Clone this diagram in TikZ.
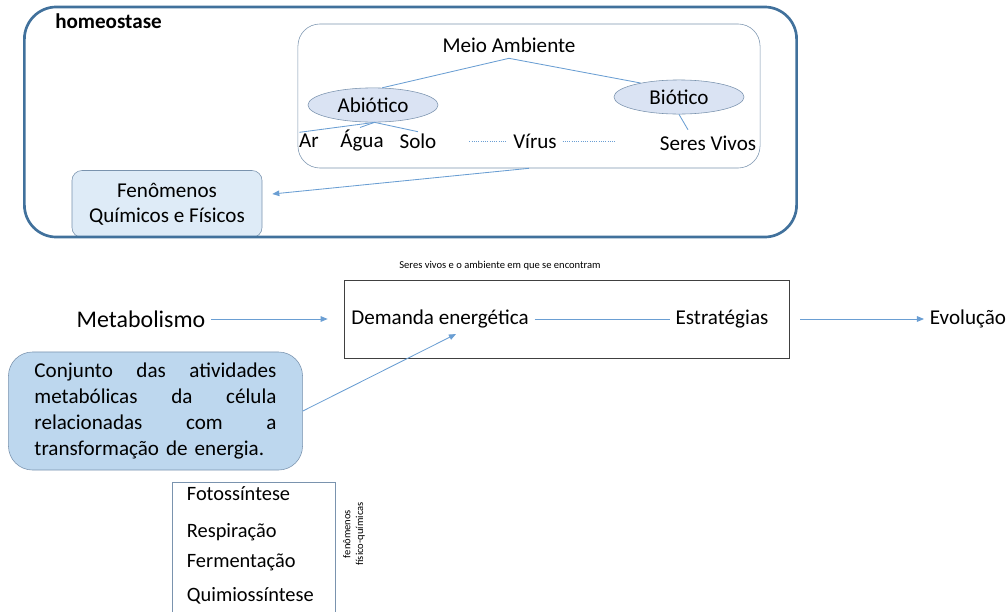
\documentclass[tikz,border=0pt]{standalone}
\usepackage{fontspec}
\setmainfont{Carlito}
\usetikzlibrary{arrows.meta,shapes.geometric}
\definecolor{outerblue}{HTML}{41719C}
\definecolor{linkblue}{HTML}{6A9ED3}
\definecolor{ovalfill}{HTML}{DAE3F3}
\definecolor{fenfill}{HTML}{DEEBF7}
\definecolor{conjfill}{HTML}{BDD7EE}
\definecolor{framegray}{HTML}{7A93AE}
\tikzset{
  lbl/.style={font=\fontsize{15}{18}\selectfont, inner sep=4pt},
  tiny/.style={font=\fontsize{7.5}{9}\selectfont, inner sep=1pt},
  oval/.style={ellipse, draw=framegray, fill=ovalfill, minimum width=3.25cm, minimum height=0.72cm, font=\fontsize{15}{18}\selectfont},
  link/.style={linkblue, line width=0.6pt},
  arrowlink/.style={link, -{Triangle[length=5pt,width=4pt]}}
}
\begin{document}
\begin{tikzpicture}[x=0.025cm, y=-0.025cm]
\useasboundingbox (0,0) rectangle (1008,612);
\clip (0,0) rectangle (1008,612);

\node[draw=framegray, fill=fenfill, rounded corners=0.25cm, minimum width=4.75cm, minimum height=1.675cm, align=center, font=\fontsize{15}{18}\selectfont] (fenom) at (167,204) {Fenômenos\\ Químicos e Físicos};
\node[draw=outerblue, line width=1.9pt, rounded corners=0.8cm, minimum width=19.3cm, minimum height=5.75cm] (homeo) at (410.5,122) {};
\node[anchor=west, font=\bfseries\fontsize{15}{18}\selectfont, inner sep=0pt] (homeotxt) at (55,21) {homeostase};

\node[draw=framegray, rounded corners=0.55cm, minimum width=11.55cm, minimum height=3.6cm] (meiobox) at (529,96) {};
\node[lbl] (meio) at (509,45) {Meio Ambiente};
\node[oval] (abiotico) at (373,105) {Abiótico};
\node[oval] (biotico) at (679,97) {Biótico};
\node[lbl] (ar) at (309,141) {Ar};
\node[lbl] (agua) at (362,141) {Água};
\node[lbl] (solo) at (418,141) {Solo};
\node[lbl] (virus) at (535,141) {Vírus};
\node[lbl] (seres) at (708,143) {Seres Vivos};

\draw[link] (meio.south) -- (abiotico.62);
\draw[link] (meio.south) -- (biotico.160);
\draw[link] (abiotico.-85) -- ([shift={(6,4)}]ar.north west);
\draw[link] (abiotico.-85) -- ([shift={(-2,3)}]agua.north);
\draw[link] (abiotico.-85) -- ([shift={(0,4)}]solo.north);
\draw[link] (biotico.south) -- ([xshift=-0.5cm]seres.north);
\draw[link, densely dotted] ([xshift=-0.95cm]virus.west) -- (virus.west);
\draw[link, densely dotted] (virus.east) -- ++(52,0);
\draw[arrowlink] (meiobox.south) -- ([shift={(10,-10)}]fenom.east);

\node[tiny] (titulo) at (500,266) {Seres vivos e o ambiente em que se encontram};
\node[draw=black!75, minimum width=11.125cm, minimum height=1.95cm] (quadro) at (566.5,319) {};
\node[lbl, font=\fontsize{17}{20}\selectfont] (metab) at (141,319) {Metabolismo};
\node[lbl] (demanda) at (440,319) {Demanda energética};
\node[lbl] (estrat) at (722,319) {Estratégias};
\node[lbl] (evol) at (968,319) {Evolução};

\draw[arrowlink] (metab.east) -- ([xshift=-0.4cm]quadro.west);
\draw[link] (demanda.east) -- (estrat.west);
\draw[arrowlink] ([xshift=0.275cm]quadro.east) -- (evol.west);

\node[draw=framegray, fill=conjfill, rounded corners=0.6cm, minimum width=7.35cm, minimum height=2.95cm, text width=6.05cm, font=\fontsize{15}{18.5}\selectfont] (conj) at (155.5,411) {Conjunto\hfill das\hfill atividades\\ metabólicas\hfill da\hfill célula\\ relacionadas\hfill com\hfill a\\ transformação de energia.};
\draw[arrowlink] (conj.east) -- ([xshift=0.4cm]demanda.south);

\node[draw=framegray, minimum width=4.075cm, minimum height=3.75cm] (processos) at (253.5,557) {};
\node[lbl, anchor=west, font=\fontsize{14.5}{17}\selectfont] (foto) at (181,494) {Fotossíntese};
\node[lbl, anchor=west, font=\fontsize{14.5}{17}\selectfont] (resp) at (181,532) {Respiração};
\node[lbl, anchor=west, font=\fontsize{14.5}{17}\selectfont] (ferm) at (181,562) {Fermentação};
\node[lbl, anchor=west, font=\fontsize{14.5}{17}\selectfont] (quimio) at (181,596) {Quimiossíntese};
\node[tiny, rotate=90, align=center] (fenfq) at (354,534) {fenômenos\\ físico-químicas};

\end{tikzpicture}
\end{document}
